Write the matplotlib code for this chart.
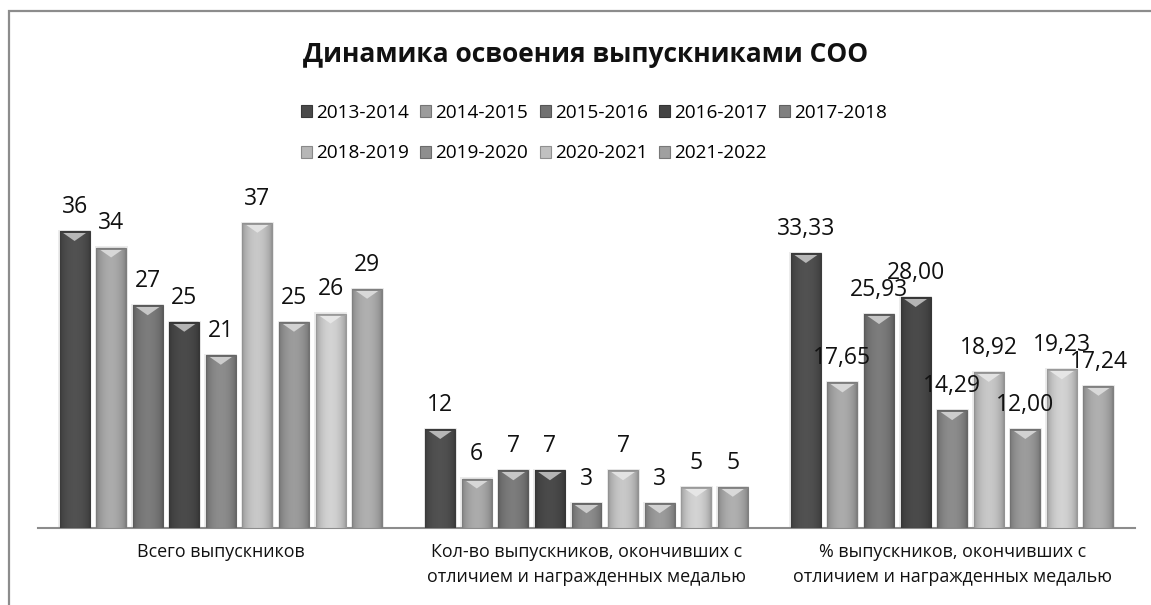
import matplotlib
matplotlib.use('Agg')
import matplotlib.pyplot as plt
import numpy as np
from matplotlib.patches import Rectangle, Polygon, Patch
from matplotlib.colors import to_rgb

plt.rcParams['font.family'] = ['Open Sans', 'DejaVu Sans']

categories = ['Всего выпускников',
              'Кол-во выпускников, окончивших с\nотличием и награжденных медалью',
              '% выпускников, окончивших с\nотличием и награжденных медалью']
series = ['2013-2014', '2014-2015', '2015-2016', '2016-2017', '2017-2018',
          '2018-2019', '2019-2020', '2020-2021', '2021-2022']
series_values = [
    [36, 12, 33.33],
    [34, 6, 17.65],
    [27, 7, 25.93],
    [25, 7, 28.00],
    [21, 3, 14.29],
    [37, 7, 18.92],
    [25, 3, 12.00],
    [26, 5, 19.23],
    [29, 5, 17.24],
]
colors = ['#4a4a4a', '#9c9c9c', '#717171', '#444444', '#808080',
          '#b6b6b6', '#8e8e8e', '#c0c0c0', '#a0a0a0']
title = 'Динамика освоения выпускниками СОО'

W, H = 1151, 605
fig = plt.figure(figsize=(W / 100, H / 100), dpi=100)
ax = fig.add_axes([38 / W, (H - 528) / H, 1097 / W, 330 / H])

n = len(series)
slot = 0.1
bw = 0.082
x = np.arange(len(categories))
ymax = 40.0
px_per_unit = 330 / ymax
bevel_h = 10 / px_per_unit

gx = np.linspace(0, 1, 64)
profile = 0.8 + 0.3 * np.sin(np.pi * gx) ** 0.6

for i, (name, vals, col) in enumerate(zip(series, series_values, colors)):
    pos = x + (i - (n - 1) / 2) * slot
    rgb = np.array(to_rgb(col))
    bars = ax.bar(pos, vals, width=bw, color=col, edgecolor='none', zorder=2, label=name)
    for b, v in zip(bars, vals):
        x0 = b.get_x()
        x1 = x0 + b.get_width()
        # soft glow
        ax.add_patch(Rectangle((x0 - 0.004, 0), x1 - x0 + 0.008, v + 0.15, facecolor='#ececec',
                               edgecolor='none', zorder=1))
        img = np.clip(rgb[None, None, :] * profile[None, :, None], 0, 1)
        im = ax.imshow(img, extent=[x0, x1, 0, v], aspect='auto', zorder=3,
                       interpolation='bilinear', origin='lower')
        im.set_clip_path(b)
        # top bevel
        light = np.clip(rgb + (1 - rgb) * 0.6, 0, 1)
        tri = Polygon([[x0 + 0.002, v], [x1 - 0.002, v], [(x0 + x1) / 2, v - bevel_h]],
                      closed=True, facecolor=light, edgecolor='none', zorder=4)
        ax.add_patch(tri)
        ax.add_patch(Rectangle((x0, v - 0.25), x1 - x0, 0.25, facecolor=np.clip(rgb * 0.85, 0, 1),
                               edgecolor='none', zorder=5))
        ax.add_patch(Rectangle((x0, 0), x1 - x0, v, facecolor='none',
                               edgecolor=np.clip(rgb * 0.8, 0, 1), lw=0.8, zorder=5))
        lab = f'{v:.2f}'.replace('.', ',') if isinstance(v, float) else f'{v}'
        ax.annotate(lab, xy=(b.get_x() + b.get_width() / 2, v), xytext=(0, 13),
                    textcoords='offset points', ha='center', va='baseline',
                    fontsize=16.5, color='#111111', zorder=6)

ax.set_xlim(-0.5, len(categories) - 0.5)
ax.set_ylim(0, ymax)
ax.set_xticks(x)
ax.set_xticklabels(categories, fontsize=12.9, linespacing=1.5, color='#111111')
ax.tick_params(axis='x', length=0, pad=11)
ax.set_yticks([])
for s in ['left', 'right', 'top']:
    ax.spines[s].set_visible(False)
ax.spines['bottom'].set_color('#8c8c8c')
ax.spines['bottom'].set_linewidth(1.5)

fig.text(586 / W, 1 - 55 / H, title, ha='center', va='center', fontsize=19,
         fontweight='bold', color='#111111')

handles = [Patch(facecolor=c, edgecolor=np.clip(np.array(to_rgb(c)) * 0.75, 0, 1), lw=0.8)
           for c in colors]
order = [0, 5, 1, 6, 2, 7, 3, 8, 4]
leg = fig.legend([handles[k] for k in order], [series[k] for k in order], ncol=5,
                 loc='upper left', bbox_to_anchor=(291 / W, 1 - 94 / H), frameon=False,
                 fontsize=13.7, handlelength=0.58, handleheight=0.58, handletextpad=0.22,
                 columnspacing=0.6, labelspacing=1.2, borderpad=0)

fig.add_artist(Rectangle((9 / W, -0.05), 1.2, 1 - 11 / H + 0.05, transform=fig.transFigure,
                         facecolor='none', edgecolor='#8c8c8c', lw=1.6, clip_on=False))

fig.savefig('out.png', dpi=100)
